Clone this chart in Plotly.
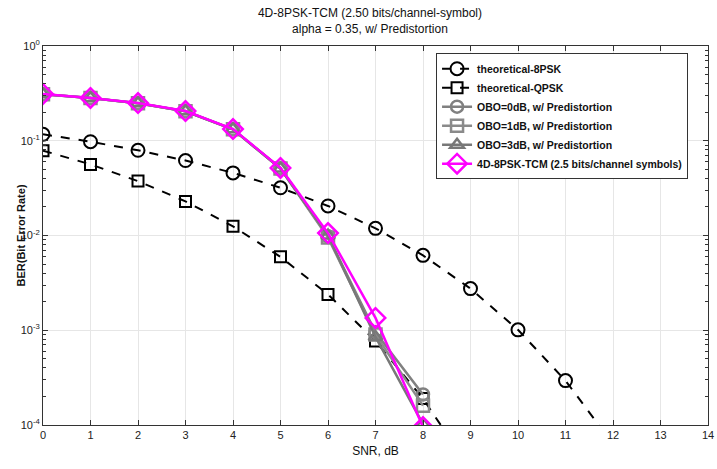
import plotly.graph_objects as go

# SNR points (dB)
snr = [0, 1, 2, 3, 4, 5, 6, 7, 8, 9, 10, 11, 12]
snr_sim = [0, 1, 2, 3, 4, 5, 6, 7, 8]

# theoretical curves
ber_8psk = [0.117, 0.0977, 0.0793, 0.0618, 0.0458, 0.0319, 0.0205, 0.0119, 0.00617,
            0.00275, 0.00101, 0.000294, 0.000063]
ber_qpsk = [0.0786, 0.0563, 0.0375, 0.0229, 0.0125, 0.00595, 0.00239, 0.00077, 0.00019, 0.000034]

# simulated, with predistortion
ber_obo0 = [0.31, 0.282, 0.249, 0.205, 0.132, 0.051, 0.0098, 0.00095, 0.00021]
ber_obo1 = [0.31, 0.282, 0.249, 0.205, 0.132, 0.051, 0.0095, 0.00090, 0.00016]
ber_obo3 = [0.31, 0.282, 0.249, 0.205, 0.132, 0.051, 0.0100, 0.00085, 0.000102]
ber_tcm = [0.312, 0.283, 0.250, 0.206, 0.133, 0.0516, 0.0106, 0.00135, 0.000095]

fig = go.Figure()

fig.add_trace(go.Scatter(x=snr, y=ber_8psk, mode="lines+markers", name="theoretical-8PSK",
                         line=dict(color="black", width=2, dash="dash"),
                         marker=dict(symbol="circle-open", size=13, color="black", line=dict(width=2))))
fig.add_trace(go.Scatter(x=snr[:len(ber_qpsk)], y=ber_qpsk, mode="lines+markers", name="theoretical-QPSK",
                         line=dict(color="black", width=2, dash="dash"),
                         marker=dict(symbol="square-open", size=11, color="black", line=dict(width=2))))

grays = [("OBO=0dB, w/ Predistortion", ber_obo0, "circle-open", "#808080"),
         ("OBO=1dB, w/ Predistortion", ber_obo1, "square-open", "#8a8a8a"),
         ("OBO=3dB, w/ Predistortion", ber_obo3, "triangle-up-open", "#787878")]
for name, vals, sym, col in grays:
    fig.add_trace(go.Scatter(x=snr_sim, y=vals, mode="lines+markers", name=name,
                             line=dict(color=col, width=2.5),
                             marker=dict(symbol=sym, size=12, color=col, line=dict(width=2.5))))

fig.add_trace(go.Scatter(x=snr_sim, y=ber_tcm, mode="lines+markers",
                         name="4D-8PSK-TCM (2.5 bits/channel symbols)",
                         line=dict(color="#ff00ff", width=2.5),
                         marker=dict(symbol="diamond-open", size=15, color="#ff00ff", line=dict(width=2.5))))

axis_common = dict(showline=True, linecolor="#333333", linewidth=1, mirror="ticks",
                   ticks="inside", ticklen=5, tickcolor="#333333", automargin=False,
                   showgrid=True, gridcolor="#e6e6e6", zeroline=False,
                   tickfont=dict(size=11, color="#222222"))

fig.update_xaxes(range=[0, 14], dtick=1, title=dict(text="SNR, dB", font=dict(size=12), standoff=6),
                 **axis_common)
fig.update_yaxes(type="log", range=[-4, 0],
                 tickvals=[1e-4, 1e-3, 1e-2, 1e-1, 1],
                 ticktext=["10<sup>-4</sup>", "10<sup>-3</sup>", "10<sup>-2</sup>", "10<sup>-1</sup>", "10<sup>0</sup>"],
                 minor=dict(ticks="inside", ticklen=3, tickcolor="#333333", showgrid=False,
                            tickvals=[m * 10 ** e for e in range(-4, 0) for m in range(2, 10)]),
                 **axis_common)

# y title as annotation so it can sit closer to the tick labels
fig.add_annotation(text="<b>BER(Bit Error Rate)</b>", textangle=-90, showarrow=False,
                   x=0, xref="paper", xanchor="center", xshift=-23,
                   y=0.5, yref="paper", yanchor="middle", font=dict(size=11))

fig.update_layout(
    width=717, height=469,
    paper_bgcolor="white", plot_bgcolor="white",
    font=dict(family="Liberation Sans, Arial, sans-serif", color="#111111"),
    margin=dict(l=43, r=9, t=46, b=44, autoexpand=False),
    title=dict(text="4D-8PSK-TCM (2.50 bits/channel-symbol)<br>alpha = 0.35, w/ Predistortion",
               x=0.516, xanchor="center", y=0.963, yanchor="middle", font=dict(size=12),
               automargin=False),
    legend=dict(x=0.97, xanchor="right", y=0.981, yanchor="top",
                bgcolor="white", bordercolor="#333333", borderwidth=1,
                font=dict(size=10.5, weight="bold"), tracegroupgap=0, itemwidth=30),
)

# drop the default body margin so the figure fills the window exactly
fig.write_html("out.html", config={"displayModeBar": False},
               post_script="document.body.style.margin='0px';")
